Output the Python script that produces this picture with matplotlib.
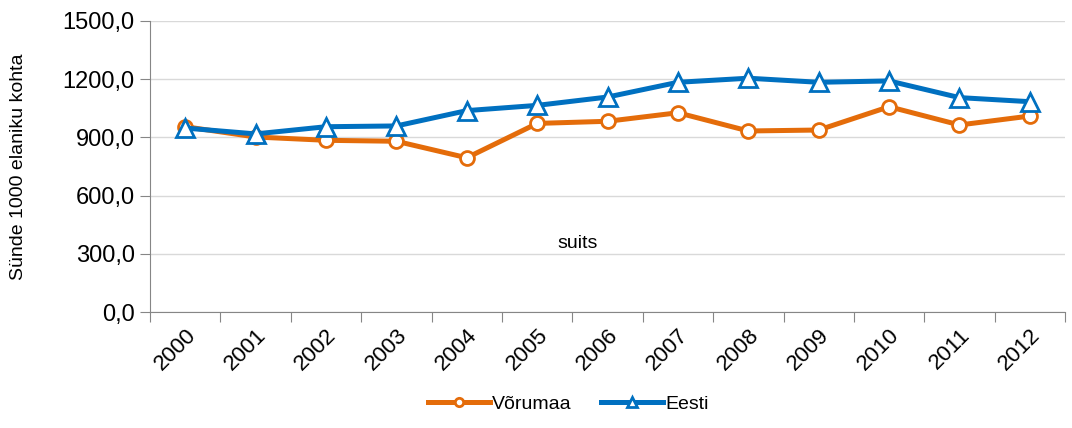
import matplotlib
matplotlib.use("Agg")
import matplotlib.pyplot as plt
from matplotlib.ticker import FuncFormatter, FixedLocator

plt.rcParams['font.family'] = ['Liberation Sans', 'DejaVu Sans']

# data
years = ['2000', '2001', '2002', '2003', '2004', '2005', '2006',
         '2007', '2008', '2009', '2010', '2011', '2012']
vorumaa = [955, 902, 885, 880, 795, 972, 983, 1027, 933, 938, 1058, 964, 1010]
eesti = [948, 918, 955, 959, 1038, 1065, 1108, 1184, 1205, 1184, 1191, 1105, 1084]

fig = plt.figure(figsize=(10.72, 4.28), dpi=100)
ax = fig.add_axes([0.14, 0.271, 0.8535, 0.68])

x = list(range(len(years)))
ax.plot(x, vorumaa, color='#E46C0A', lw=3.6, marker='o', ms=10,
        mfc='white', mec='#E46C0A', mew=2, label='Võrumaa', zorder=3)
ax.plot(x, eesti, color='#0070C0', lw=3.6, marker='^', ms=13,
        mfc='white', mec='#0070C0', mew=2, label='Eesti', zorder=4)

ax.set_ylim(0, 1500)
ax.set_yticks(range(0, 1501, 300))
ax.yaxis.set_major_formatter(FuncFormatter(lambda v, p: f"{v:.1f}".replace('.', ',')))
ax.set_xlim(-0.5, len(years) - 0.5)

# ticks between categories, labels at centres
ax.xaxis.set_major_locator(FixedLocator([i - 0.5 for i in range(len(years) + 1)]))
ax.xaxis.set_major_formatter(FuncFormatter(lambda v, p: ''))
ax.xaxis.set_minor_locator(FixedLocator(x))
ax.set_xticklabels(years, minor=True, rotation=45, ha='right',
                   rotation_mode='anchor', fontsize=16)
ax.tick_params(axis='x', which='minor', length=0, pad=9)
ax.tick_params(axis='x', which='major', length=7, color='#868686')
ax.tick_params(axis='y', length=7, color='#868686', labelsize=17, pad=4)

ax.grid(axis='y', color='#D9D9D9', lw=1)
ax.set_axisbelow(True)
for s in ['top', 'right']:
    ax.spines[s].set_visible(False)
for s in ['left', 'bottom']:
    ax.spines[s].set_color('#868686')

ax.set_ylabel('Sünde 1000 elaniku kohta', fontsize=14, labelpad=26)
ax.text(5.57, 355, 'suits', fontsize=14, ha='center', va='center')

fig.legend(loc='lower center', bbox_to_anchor=(0.53, -0.005), ncol=2,
           frameon=False, fontsize=14, handlelength=3.2, columnspacing=1.5,
           handletextpad=0.1, markerscale=0.6)

fig.savefig('out.png', dpi=100)
